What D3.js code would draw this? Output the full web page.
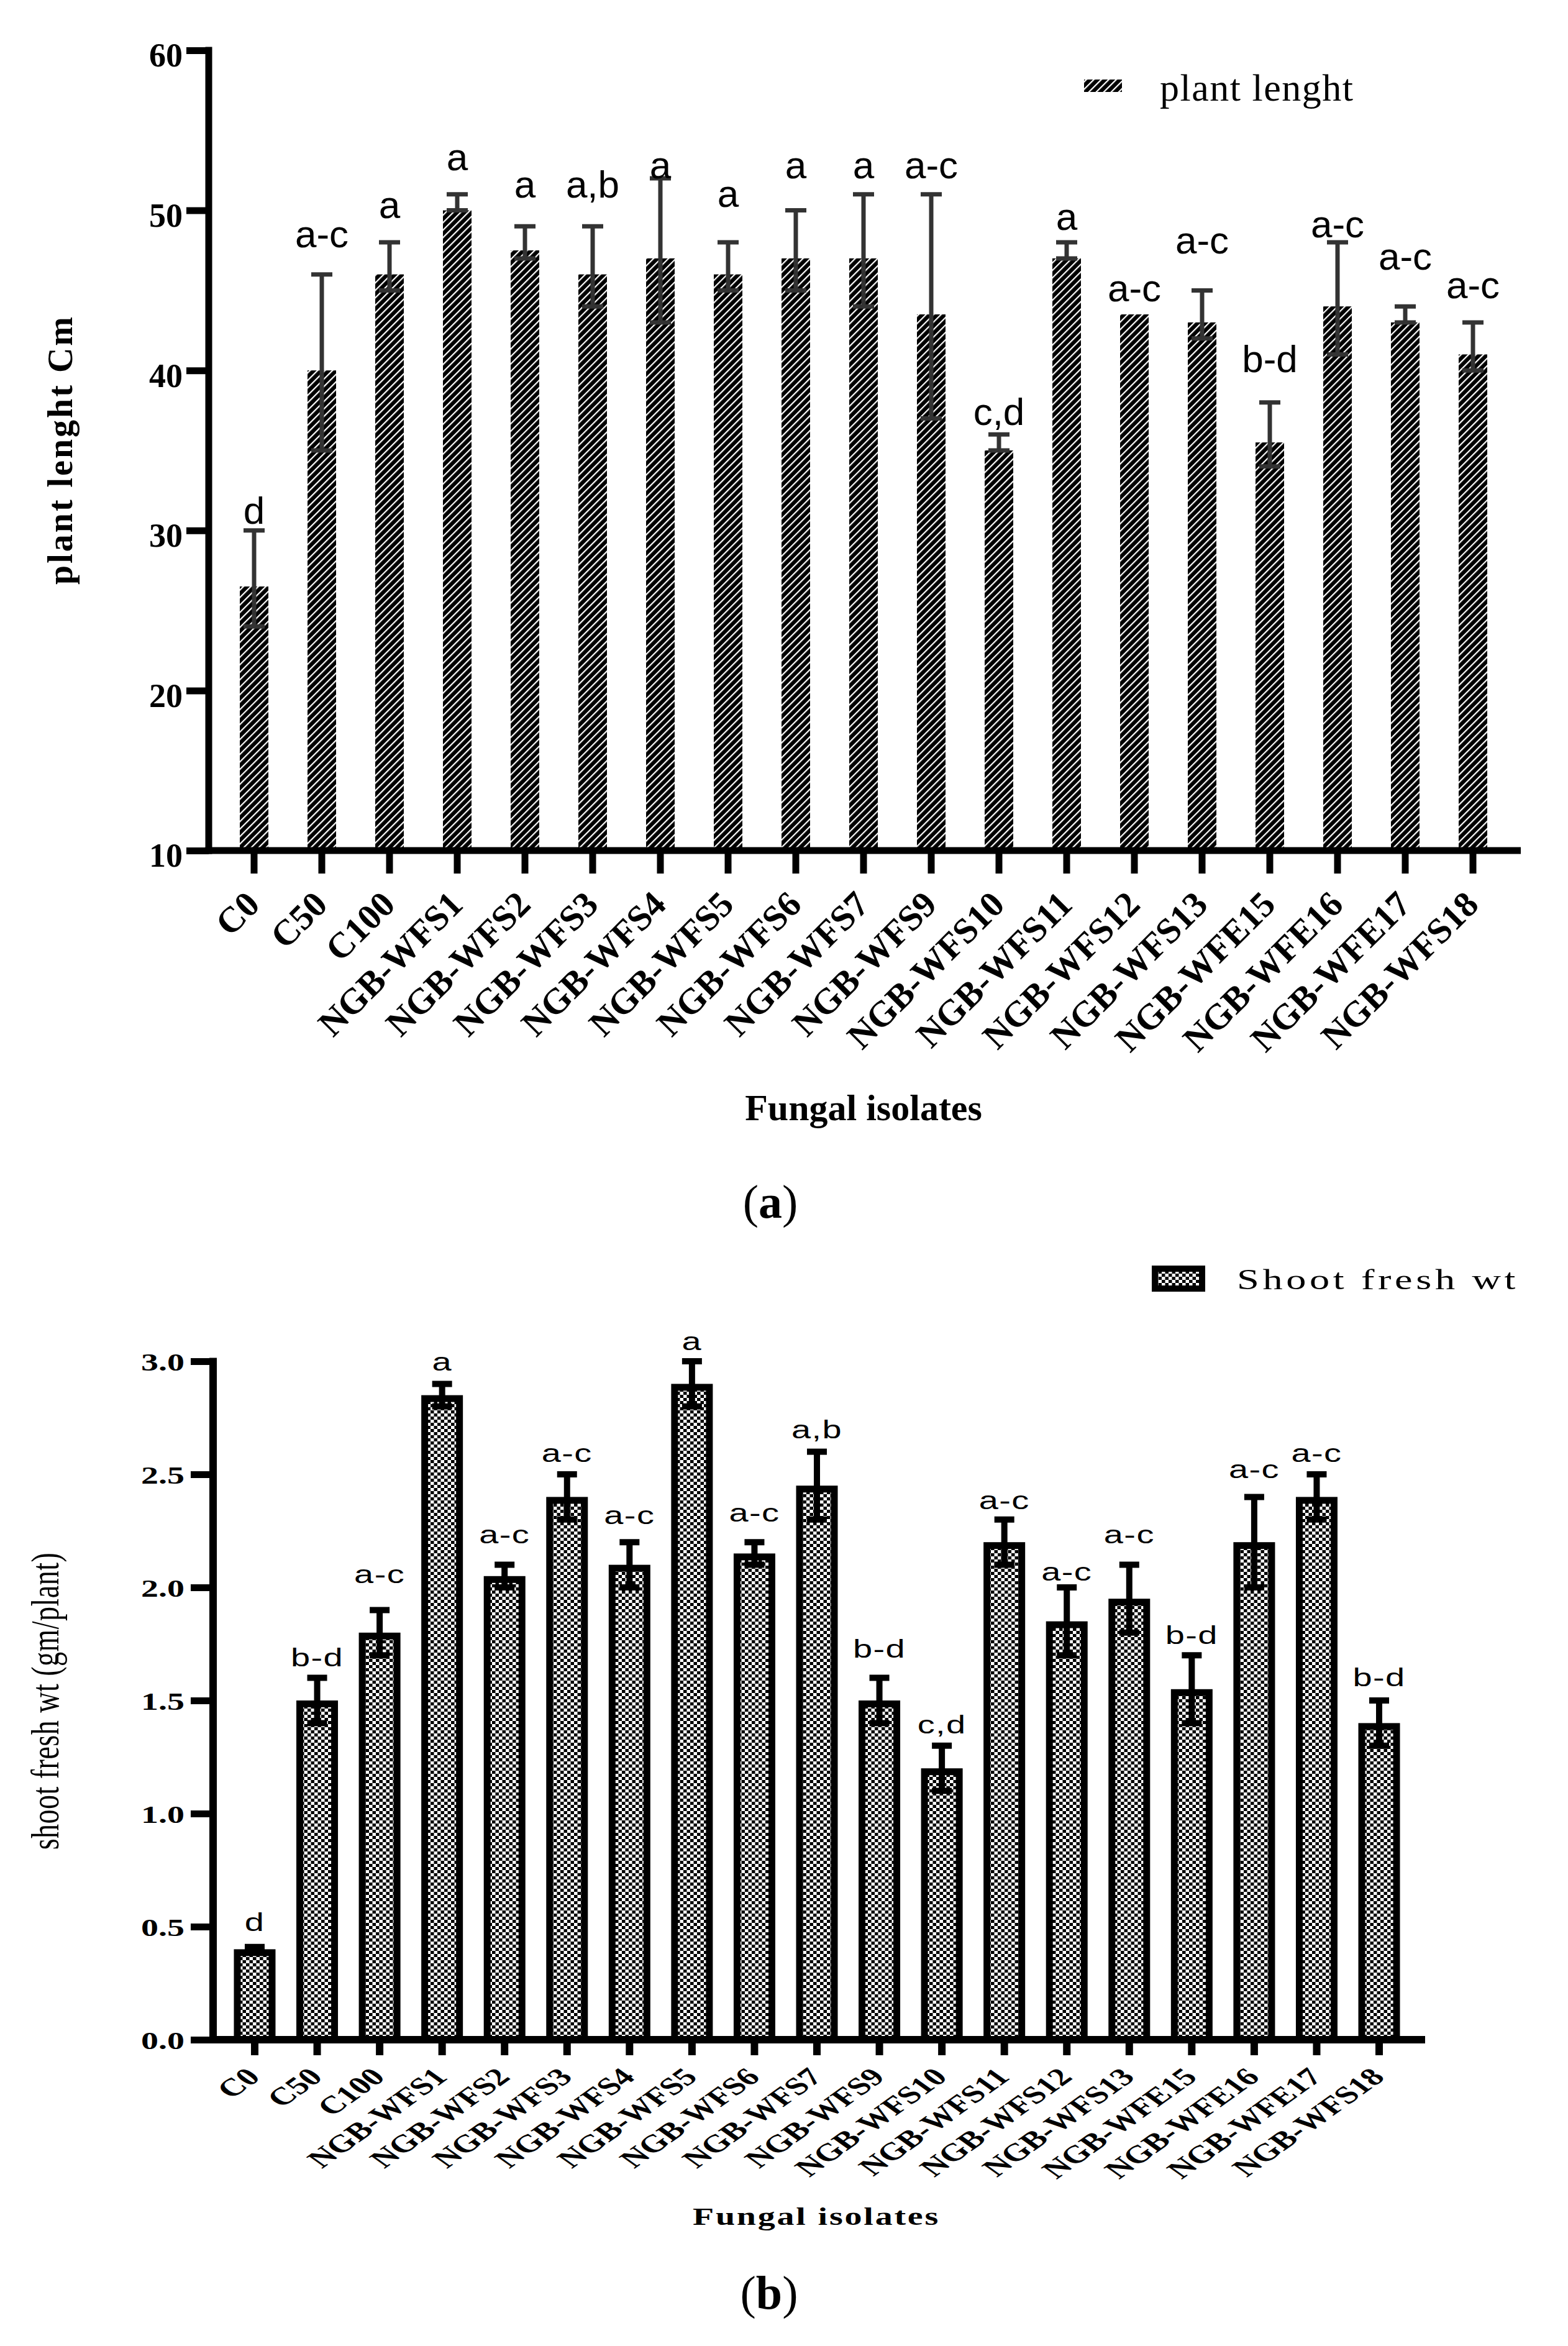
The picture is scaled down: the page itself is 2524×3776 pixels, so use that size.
<!DOCTYPE html>
<html><head><meta charset="utf-8">
<script src="https://cdn.jsdelivr.net/npm/d3@7"></script>
<style>html,body{margin:0;padding:0;background:#fff;}</style>
</head><body>
<svg id="fig" width="2524" height="3776" xmlns="http://www.w3.org/2000/svg"></svg>
<script>
// ---------- DATA ----------
const categories = ["C0","C50","C100","NGB-WFS1","NGB-WFS2","NGB-WFS3","NGB-WFS4","NGB-WFS5","NGB-WFS6","NGB-WFS7","NGB-WFS9","NGB-WFS10","NGB-WFS11","NGB-WFS12","NGB-WFS13","NGB-WFE15","NGB-WFE16","NGB-WFE17","NGB-WFS18"];

// (a) plant length (cm)
const plantLength   = [26.5, 40, 46, 50, 47.5, 46, 47, 46, 47, 47, 43.5, 35, 47, 43.5, 43, 35.5, 44, 43, 41];
const plantErrHigh  = [30, 46, 48, 51, 49, 49, 52, 48, 50, 51, 51, 36, 48, 43.5, 45, 38, 48, 44, 43];
const plantErrLow   = [24, 35, 45, 50, 47, 44, 43, 45, 45, 44, 37, 35, 47, 43.5, 42, 34, 41, 43, 40];
const plantLetters  = ["d","a-c","a","a","a","a,b","a","a","a","a","a-c","c,d","a","a-c","a-c","b-d","a-c","a-c","a-c"];
const plantLetterAt = [30.4, 47.7, 49.5, 52.5, 50.8, 50.8, 52.0, 50.2, 52.0, 52.0, 52.0, 36.6, 48.8, 44.3, 47.3, 39.9, 48.3, 46.3, 44.5];
const plantTicks    = [10, 20, 30, 40, 50, 60];

// (b) shoot fresh weight (gm/plant)
const shootWt       = [0.40, 1.50, 1.80, 2.85, 2.05, 2.40, 2.10, 2.90, 2.15, 2.45, 1.50, 1.20, 2.20, 1.85, 1.95, 1.55, 2.20, 2.40, 1.40];
const shootErrHigh  = [0.41, 1.60, 1.90, 2.90, 2.10, 2.50, 2.20, 3.00, 2.20, 2.60, 1.60, 1.30, 2.30, 2.00, 2.10, 1.70, 2.40, 2.50, 1.50];
const shootErrLow   = [0.39, 1.40, 1.70, 2.80, 2.00, 2.30, 2.00, 2.80, 2.10, 2.30, 1.40, 1.10, 2.10, 1.70, 1.80, 1.40, 2.00, 2.30, 1.30];
const shootLetters  = ["d","b-d","a-c","a","a-c","a-c","a-c","a","a-c","a,b","b-d","c,d","a-c","a-c","a-c","b-d","a-c","a-c","b-d"];
const shootLetterAt = [0.48, 1.65, 2.02, 2.96, 2.195, 2.555, 2.28, 3.05, 2.29, 2.66, 1.69, 1.355, 2.345, 2.03, 2.195, 1.75, 2.484, 2.555, 1.564];
const shootTicks    = [0, 0.5, 1.0, 1.5, 2.0, 2.5, 3.0];

// ---------- SETUP ----------
const SERIF = "'Liberation Serif','Times New Roman',serif";
const SANS  = "'Liberation Sans',Arial,sans-serif";
const svg = d3.select("#fig");
svg.append("rect").attr("width", 2524).attr("height", 3776).attr("fill", "#fff");
const defs = svg.append("defs");

const hatch = defs.append("pattern").attr("id", "hatch").attr("patternUnits", "userSpaceOnUse")
  .attr("width", 8.5).attr("height", 8.5).attr("patternTransform", "rotate(45)");
hatch.append("rect").attr("width", 8.5).attr("height", 8.5).attr("fill", "#000");
hatch.append("rect").attr("width", 2.2).attr("height", 8.5).attr("fill", "#fff");

const chk = defs.append("pattern").attr("id", "checker").attr("patternUnits", "userSpaceOnUse")
  .attr("width", 11).attr("height", 10);
chk.append("rect").attr("width", 11).attr("height", 10).attr("fill", "#fff");
chk.append("rect").attr("width", 5.5).attr("height", 5).attr("fill", "#000");
chk.append("rect").attr("x", 5.5).attr("y", 5).attr("width", 5.5).attr("height", 5).attr("fill", "#000");

// ---------- CHART (a) ----------
const A = { axisX: 336, axisY: 1369, top: 81, right: 2448 };
const xA = d3.scaleBand().domain(categories).range([354.5, 2425.5]).paddingInner(0.578).paddingOuter(0.289);
const yA = d3.scaleLinear().domain([10, 60]).range([A.axisY, A.top]);
const gA = svg.append("g");
const cxA = d => xA(d) + xA.bandwidth() / 2;

gA.selectAll("rect.bar").data(categories).join("rect").attr("class", "bar")
  .attr("x", d => xA(d)).attr("width", xA.bandwidth())
  .attr("y", (d, i) => yA(plantLength[i]))
  .attr("height", (d, i) => yA(10) - yA(plantLength[i]))
  .attr("fill", "url(#hatch)");

const errA = categories.map((d, i) => ({ d, hi: plantErrHigh[i], lo: plantErrLow[i] })).filter(e => e.hi > e.lo);
const eg = gA.append("g").attr("stroke", "#333").attr("stroke-width", 7);
eg.selectAll("line.v").data(errA).join("line").attr("x1", e => cxA(e.d)).attr("x2", e => cxA(e.d))
  .attr("y1", e => yA(e.lo)).attr("y2", e => yA(e.hi));
eg.selectAll("line.ct").data(errA).join("line").attr("class","ct").attr("x1", e => cxA(e.d) - 17).attr("x2", e => cxA(e.d) + 17)
  .attr("y1", e => yA(e.hi)).attr("y2", e => yA(e.hi));
eg.selectAll("line.cb").data(errA).join("line").attr("class","cb").attr("x1", e => cxA(e.d) - 17).attr("x2", e => cxA(e.d) + 17)
  .attr("y1", e => yA(e.lo)).attr("y2", e => yA(e.lo));

gA.selectAll("text.lab").data(categories).join("text").attr("class", "lab")
  .attr("x", d => cxA(d)).attr("y", (d, i) => yA(plantLetterAt[i]))
  .attr("text-anchor", "middle").attr("font-family", SANS).attr("font-size", 62).attr("fill", "#000")
  .text((d, i) => plantLetters[i]);

// axes
gA.append("g").attr("transform", `translate(${A.axisX},0)`)
  .call(d3.axisLeft(yA).tickValues(plantTicks).tickSize(36).tickSizeOuter(0))
  .call(g => {
    g.select(".domain").remove();
    g.selectAll(".tick line").attr("stroke", "#000").attr("stroke-width", 11);
    g.selectAll(".tick text").attr("x", -42).attr("dy", "0.48em").attr("fill", "#000")
      .attr("font-family", SERIF).attr("font-weight", "bold").attr("font-size", 54);
  });
gA.append("g").attr("transform", `translate(0,${A.axisY})`)
  .call(d3.axisBottom(xA).tickSize(37).tickSizeOuter(0))
  .call(g => {
    g.select(".domain").remove();
    g.selectAll(".tick line").attr("stroke", "#000").attr("stroke-width", 11);
    g.selectAll(".tick text").attr("x", 0).attr("y", 0).attr("dy", 0)
      .attr("transform", "translate(12,90) rotate(-45)").attr("text-anchor", "end").attr("fill", "#000")
      .attr("font-family", SERIF).attr("font-weight", "bold").attr("font-size", 58);
  });
gA.append("line").attr("x1", A.axisX).attr("x2", A.axisX).attr("y1", yA(60) - 5.5).attr("y2", A.axisY + 5.5)
  .attr("stroke", "#000").attr("stroke-width", 11);
gA.append("line").attr("x1", A.axisX - 5.5).attr("x2", A.right).attr("y1", A.axisY).attr("y2", A.axisY)
  .attr("stroke", "#000").attr("stroke-width", 11);

gA.append("text").attr("transform", "translate(116,724) rotate(-90)").attr("text-anchor", "middle")
  .attr("font-family", SERIF).attr("font-weight", "bold").attr("font-size", 56).attr("letter-spacing", 3)
  .text("plant lenght Cm");
gA.append("text").attr("x", 1390).attr("y", 1803).attr("text-anchor", "middle")
  .attr("font-family", SERIF).attr("font-weight", "bold").attr("font-size", 60).text("Fungal isolates");
// legend
gA.append("rect").attr("x", 1745).attr("y", 128).attr("width", 61).attr("height", 20).attr("fill", "url(#hatch)");
gA.append("text").attr("x", 1867).attr("y", 162).attr("font-family", SERIF).attr("font-size", 62)
  .attr("letter-spacing", 1.5).text("plant lenght");
// panel label
const pa = gA.append("text").attr("x", 1240).attr("y", 1960).attr("text-anchor", "middle")
  .attr("font-family", SERIF).attr("font-size", 76);
pa.append("tspan").text("(");
pa.append("tspan").attr("font-weight", "bold").text("a");
pa.append("tspan").text(")");

// ---------- CHART (b) ----------
const B = { axisX: 343, axisY: 3283, top: 2191, right: 2294, k: 1.4 };
const xB = d3.scaleBand().domain(categories).range([359.7, 2270.3]).paddingInner(0.443).paddingOuter(0.2215);
const yB = d3.scaleLinear().domain([0, 3]).range([B.axisY, B.top]);
const gB = svg.append("g");
const cxB = d => xB(d) + xB.bandwidth() / 2;
const SW = 11;

gB.selectAll("rect.bar").data(categories).join("rect").attr("class", "bar")
  .attr("x", d => xB(d)).attr("width", xB.bandwidth())
  .attr("y", (d, i) => yB(shootWt[i]) + SW / 2)
  .attr("height", (d, i) => yB(0) - yB(shootWt[i]) - SW / 2)
  .attr("fill", "url(#checker)").attr("stroke", "#000").attr("stroke-width", SW);

const errB = categories.map((d, i) => ({ d, hi: shootErrHigh[i], lo: shootErrLow[i] })).filter(e => e.hi > e.lo);
const ebg = gB.append("g").attr("stroke", "#000").attr("stroke-width", 10);
ebg.selectAll("line.v").data(errB).join("line").attr("x1", e => cxB(e.d)).attr("x2", e => cxB(e.d))
  .attr("y1", e => yB(e.lo)).attr("y2", e => yB(e.hi));
ebg.selectAll("line.ct").data(errB).join("line").attr("class","ct").attr("x1", e => cxB(e.d) - 16).attr("x2", e => cxB(e.d) + 16)
  .attr("y1", e => yB(e.hi)).attr("y2", e => yB(e.hi));
ebg.selectAll("line.cb").data(errB).join("line").attr("class","cb").attr("x1", e => cxB(e.d) - 16).attr("x2", e => cxB(e.d) + 16)
  .attr("y1", e => yB(e.lo)).attr("y2", e => yB(e.lo));

gB.selectAll("text.lab").data(categories).join("text").attr("class", "lab")
  .attr("transform", (d, i) => `translate(${cxB(d)},${yB(shootLetterAt[i])}) scale(${B.k},1)`)
  .attr("text-anchor", "middle").attr("font-family", SANS).attr("font-size", 40).attr("letter-spacing", 1)
  .attr("fill", "#000").text((d, i) => shootLetters[i]);

gB.append("g").attr("transform", `translate(${B.axisX},0)`)
  .call(d3.axisLeft(yB).tickValues(shootTicks).tickFormat(d3.format(".1f")).tickSize(36).tickSizeOuter(0))
  .call(g => {
    g.select(".domain").remove();
    g.selectAll(".tick line").attr("stroke", "#000").attr("stroke-width", 11);
    g.selectAll(".tick text").attr("x", 0).attr("dy", "0.35em")
      .attr("transform", `translate(-46,0) scale(${B.k},1)`).attr("fill", "#000")
      .attr("font-family", SERIF).attr("font-weight", "bold").attr("font-size", 40);
  });
gB.append("g").attr("transform", `translate(0,${B.axisY})`)
  .call(d3.axisBottom(xB).tickSize(25).tickSizeOuter(0))
  .call(g => {
    g.select(".domain").remove();
    g.selectAll(".tick line").attr("stroke", "#000").attr("stroke-width", 12);
    g.selectAll(".tick text").attr("x", 0).attr("y", 0).attr("dy", 0)
      .attr("transform", `translate(11,62) scale(${B.k},1) rotate(-45)`).attr("text-anchor", "end").attr("fill", "#000")
      .attr("font-family", SERIF).attr("font-weight", "bold").attr("font-size", 40);
  });
gB.append("line").attr("x1", B.axisX).attr("x2", B.axisX).attr("y1", yB(3) - 5.5).attr("y2", B.axisY + 6)
  .attr("stroke", "#000").attr("stroke-width", 12);
gB.append("line").attr("x1", B.axisX - 6).attr("x2", B.right).attr("y1", B.axisY).attr("y2", B.axisY)
  .attr("stroke", "#000").attr("stroke-width", 12);

gB.append("text").attr("transform", `translate(94,2738) scale(${B.k},1) rotate(-90)`).attr("text-anchor", "middle")
  .attr("font-family", SERIF).attr("font-size", 46).attr("letter-spacing", 0.5)
  .text("shoot fresh wt (gm/plant)");
gB.append("text").attr("transform", `translate(1314,3581) scale(${B.k},1)`).attr("text-anchor", "middle")
  .attr("font-family", SERIF).attr("font-weight", "bold").attr("font-size", 40).attr("letter-spacing", 2)
  .text("Fungal isolates");
// legend
gB.append("rect").attr("x", 1854).attr("y", 2037).attr("width", 86).attr("height", 42).attr("fill", "#000");
gB.append("rect").attr("x", 1864).attr("y", 2047).attr("width", 66).attr("height", 22).attr("fill", "url(#checker)");
gB.append("text").attr("transform", `translate(1991,2075) scale(${B.k},1)`)
  .attr("font-family", SERIF).attr("font-size", 46).attr("letter-spacing", 4).text("Shoot fresh wt");
const pb = gB.append("text").attr("x", 1238).attr("y", 3716).attr("text-anchor", "middle")
  .attr("font-family", SERIF).attr("font-size", 76);
pb.append("tspan").text("(");
pb.append("tspan").attr("font-weight", "bold").text("b");
pb.append("tspan").text(")");
</script>
</body></html>
